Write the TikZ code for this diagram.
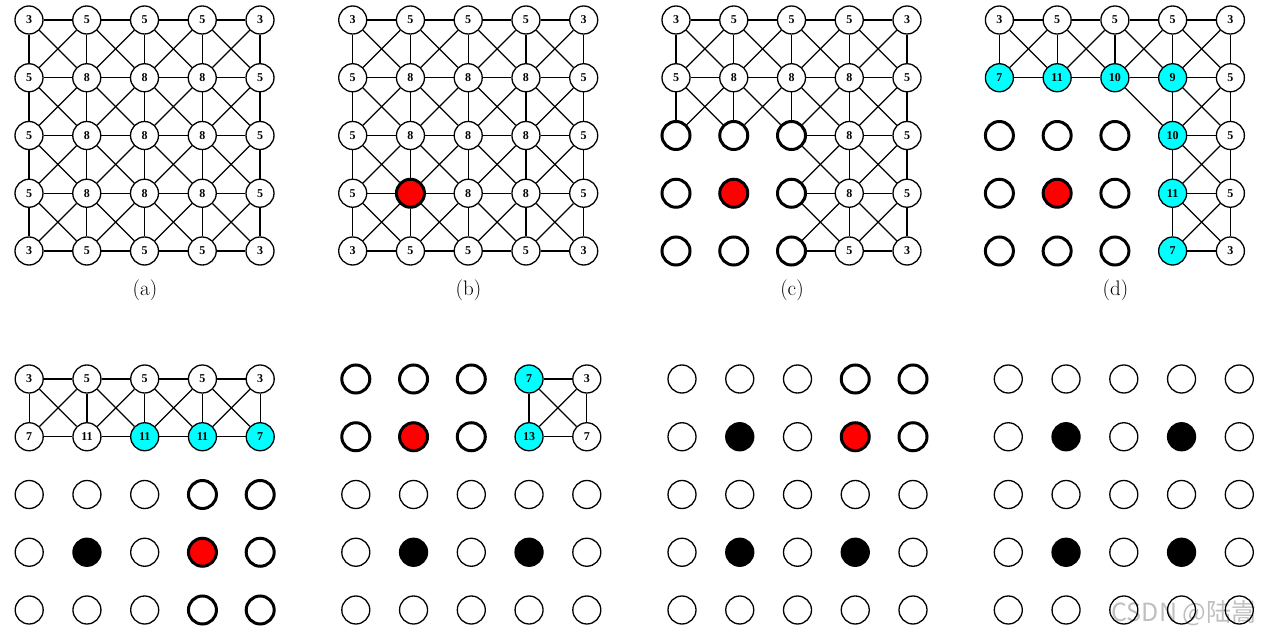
\documentclass[tikz,border=0pt]{standalone}
\usepackage{fontspec}
\newfontfamily\numfont{Liberation Serif}
\newfontfamily\cjkfont{Noto Sans CJK SC}

\definecolor{hitcyan}{RGB}{0,255,255}
\definecolor{pickred}{RGB}{255,0,0}
\def\cellgap{57.75}

\tikzset{
    cell/.style   = {cell #1},
    cell n/.style = {circle, draw=black, line width=1.3pt, fill=white, minimum size=28pt, inner sep=0pt,
                     font=\numfont\bfseries\fontsize{12}{12}\selectfont},
    cell c/.style = {cell n, fill=hitcyan},
    cell t/.style = {cell n, line width=3pt},
    cell r/.style = {cell t, fill=pickred},
    cell b/.style = {cell n, fill=black},
    link/.style   = {draw=black, line width=1.2pt},
    caption/.style   = {font=\fontsize{21}{24}\selectfont, inner sep=0pt},
    watermark/.style = {font=\cjkfont\fontsize{25}{28}\selectfont, text=black, text opacity=0.25, inner sep=0pt}
}

% #1 panel name, #2 x of first column, #3 y of first row, #4 rows of kind/label
\newcommand{\panel}[4]{%
    \foreach \cells [count=\ri] in {#4} {
        \foreach \kind/\lab [count=\ci] in \cells {
            \node[cell/.expanded=\kind] (#1-\ri-\ci) at ({#2+(\ci-1)*\cellgap}, {#3+(\ri-1)*\cellgap}) {\lab};
        }
    }
}

% #1 panel name, #2 test which neighbour links are kept
\newcommand{\links}[2]{%
    \foreach \ri in {1,...,5} {
        \foreach \ci in {1,...,5} {
            \foreach \dr/\dc in {0/1,1/0,1/1,1/-1} {
                \pgfmathtruncatemacro{\rj}{\ri+\dr}
                \pgfmathtruncatemacro{\cj}{\ci+\dc}
                \pgfmathtruncatemacro{\keep}{and(\rj<=5, and(\cj>=1, \cj<=5)) && (#2)}
                \ifnum\keep=1 \draw[link] (#1-\ri-\ci) -- (#1-\rj-\cj); \fi
            }
        }
    }
}

\begin{document}
\begin{tikzpicture}[x=1pt, y=-1pt]
    \useasboundingbox (0,0) rectangle (1267,636);

    % --- (a) full grid ---
    \panel{a}{29}{20}{
        {n/3,n/5,n/5,n/5,n/3},
        {n/5,n/8,n/8,n/8,n/5},
        {n/5,n/8,n/8,n/8,n/5},
        {n/5,n/8,n/8,n/8,n/5},
        {n/3,n/5,n/5,n/5,n/3}}
    \links{a}{1}
    \node[caption] (cap-a) at (145, 290) {(a)};

    % --- (b) first pick ---
    \panel{b}{352.7}{20}{
        {n/3,n/5,n/5,n/5,n/3},
        {n/5,n/8,n/8,n/8,n/5},
        {n/5,n/8,n/8,n/8,n/5},
        {n/5,r/{},n/8,n/8,n/5},
        {n/3,n/5,n/5,n/5,n/3}}
    \links{b}{1}
    \node[caption] (cap-b) at (468.5, 290) {(b)};

    % --- (c) block taken out ---
    \panel{c}{676}{20}{
        {n/3,n/5,n/5,n/5,n/3},
        {n/5,n/8,n/8,n/8,n/5},
        {t/{},t/{},t/{},n/8,n/5},
        {t/{},r/{},t/{},n/8,n/5},
        {t/{},t/{},t/{},n/5,n/3}}
    \links{c}{!(((\ri>=3) && (\ci<=3)) && ((\rj>=3) && (\cj<=3)))}
    \node[caption] (cap-c) at (792, 290) {(c)};

    % --- (d) updated degrees ---
    \panel{d}{999.4}{20}{
        {n/3,n/5,n/5,n/5,n/3},
        {c/7,c/11,c/10,c/9,n/5},
        {t/{},t/{},t/{},c/10,n/5},
        {t/{},r/{},t/{},c/11,n/5},
        {t/{},t/{},t/{},c/7,n/3}}
    \links{d}{!((\ri>=3) && (\ci<=3)) && !((\rj>=3) && (\cj<=3))}
    \node[caption] (cap-d) at (1115.5, 290) {(d)};

    % --- bottom row ---
    \panel{e}{29.2}{379}{
        {n/3,n/5,n/5,n/5,n/3},
        {n/7,n/11,c/11,c/11,c/7},
        {n/{},n/{},n/{},t/{},t/{}},
        {n/{},b/{},n/{},r/{},t/{}},
        {n/{},n/{},n/{},t/{},t/{}}}
    \links{e}{\rj<=2}

    \panel{f}{355.8}{379}{
        {t/{},t/{},t/{},c/7,n/3},
        {t/{},r/{},t/{},c/13,n/7},
        {n/{},n/{},n/{},n/{},n/{}},
        {n/{},b/{},n/{},b/{},n/{}},
        {n/{},n/{},n/{},n/{},n/{}}}
    \links{f}{(\rj<=2) && (\ci>=4) && (\cj>=4)}

    \panel{g}{682}{379}{
        {n/{},n/{},n/{},t/{},t/{}},
        {n/{},b/{},n/{},r/{},t/{}},
        {n/{},n/{},n/{},n/{},n/{}},
        {n/{},b/{},n/{},b/{},n/{}},
        {n/{},n/{},n/{},n/{},n/{}}}

    \panel{h}{1008.3}{379}{
        {n/{},n/{},n/{},n/{},n/{}},
        {n/{},b/{},n/{},b/{},n/{}},
        {n/{},n/{},n/{},n/{},n/{}},
        {n/{},b/{},n/{},b/{},n/{}},
        {n/{},n/{},n/{},n/{},n/{}}}

    \node[watermark] (wm) at (1184, 613) {CSDN @陆嵩};
\end{tikzpicture}
\end{document}
